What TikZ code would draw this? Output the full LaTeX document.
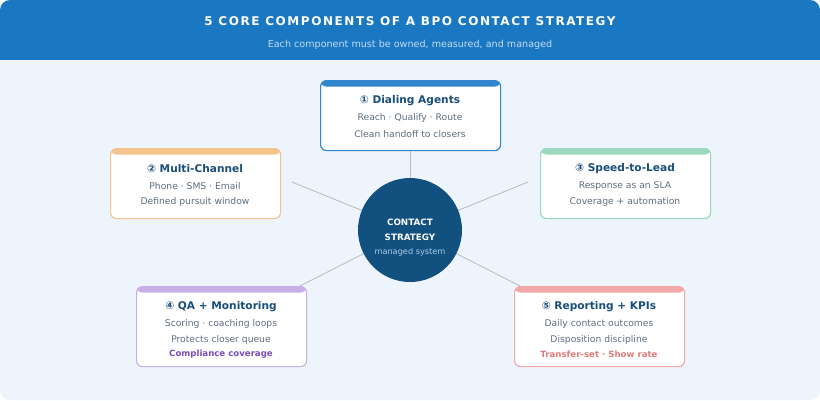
\documentclass[tikz,border=0pt]{standalone}
\usepackage{fontspec}
\setmainfont{DejaVu Sans}
\begin{document}
\begin{tikzpicture}[x=1pt,y=-1pt,
  card/.style args={#1/#2}{draw=#2,line width=1.2pt,rounded corners=6pt,fill=white,minimum width=#1,anchor=north west,inner sep=0pt,
    path picture={\fill[#2] (path picture bounding box.north west) rectangle ([yshift=-6pt]path picture bounding box.north east);}},
  ttl/.style={font=\fontsize{10.6}{12}\selectfont\bfseries,text=titc},
  sub/.style={font=\fontsize{9.2}{11}\selectfont,text=subc},
  ctext/.style={font=\fontsize{8.8}{10}\selectfont\bfseries,text=white},
  conn/.style={draw=linec,line width=0.8pt}]
\definecolor{hdr}{HTML}{1A78C2}
\definecolor{bg}{HTML}{EEF4FC}
\definecolor{titc}{HTML}{1A4E7A}
\definecolor{subc}{HTML}{5E6E80}
\definecolor{linec}{HTML}{B2BAC6}
\definecolor{c1}{HTML}{2F86CC}
\definecolor{c2}{HTML}{F5C38C}
\definecolor{c3}{HTML}{9AD9BD}
\definecolor{c4}{HTML}{C7B0EA}
\definecolor{c5}{HTML}{F2A8A8}
\definecolor{circ}{HTML}{12507F}
\definecolor{purp}{HTML}{7A4CC0}
\definecolor{pinkt}{HTML}{E07A7A}
\useasboundingbox (0,0) rectangle (820,400);
\fill[bg,rounded corners=10pt] (0,0) rectangle (820,400);
\fill[hdr,rounded corners=10pt] (0,0) rectangle (820,30);
\fill[hdr] (0,20) rectangle (820,60);
\node[font=\fontsize{12}{13}\selectfont\bfseries\addfontfeature{LetterSpace=13},text=white] (title) at (410,21.5) {5 CORE COMPONENTS OF A BPO CONTACT STRATEGY};
\node[font=\fontsize{9.6}{11}\selectfont,text=bg!80!hdr] (subt) at (410,44.5) {Each component must be owned, measured, and managed};

\node[card=180pt/c1,minimum height=70pt] (b1) at (320,80) {};
\node[card=170pt/c2,minimum height=70pt] (b2) at (110,148) {};
\node[card=170pt/c3,minimum height=70pt] (b3) at (540,148) {};
\node[card=170pt/c4,minimum height=80pt] (b4) at (136,286) {};
\node[card=170pt/c5,minimum height=80pt] (b5) at (514,286) {};

\coordinate (c) at (410,230);
\coordinate (p2) at (292,182);
\coordinate (p3) at (528,182);
\coordinate (p4) at (300,286);
\coordinate (p5) at (520,286);
\draw[conn] (b1.south) -- (c);
\draw[conn] (p2) -- (c);
\draw[conn] (p3) -- (c);
\draw[conn] (p4) -- (c);
\draw[conn] (p5) -- (c);
\node[circle,fill=circ,minimum size=104pt,inner sep=0pt] (cc) at (c) {};
\node[ctext] (c1t) at (410,222) {CONTACT};
\node[ctext] (c2t) at (410,237) {STRATEGY};
\node[font=\fontsize{8.2}{10}\selectfont,text=c1!40!white] (c3t) at (410,252) {managed system};

\node[ttl] (t1) at (410,101) {① Dialing Agents};
\node[sub] (s1a) at (410,118) {Reach · Qualify · Route};
\node[sub] (s1b) at (410,134) {Clean handoff to closers};
\node[ttl] (t2) at (195,169) {② Multi-Channel};
\node[sub] (s2a) at (195,186) {Phone · SMS · Email};
\node[sub] (s2b) at (195,202) {Defined pursuit window};
\node[ttl] (t3) at (625,169) {③ Speed-to-Lead};
\node[sub] (s3a) at (625,186) {Response as an SLA};
\node[sub] (s3b) at (625,202) {Coverage + automation};
\node[ttl] (t4) at (221,307) {④ QA + Monitoring};
\node[sub] (s4a) at (221,324) {Scoring · coaching loops};
\node[sub] (s4b) at (221,340) {Protects closer queue};
\node[font=\fontsize{8.6}{10}\selectfont\bfseries,text=purp] (s4c) at (221,354) {Compliance coverage};
\node[ttl] (t5) at (599,307) {⑤ Reporting + KPIs};
\node[sub] (s5a) at (599,324) {Daily contact outcomes};
\node[sub] (s5b) at (599,340) {Disposition discipline};
\node[font=\fontsize{8.6}{10}\selectfont\bfseries,text=pinkt] (s5c) at (599,354) {Transfer-set · Show rate};
\end{tikzpicture}
\end{document}
